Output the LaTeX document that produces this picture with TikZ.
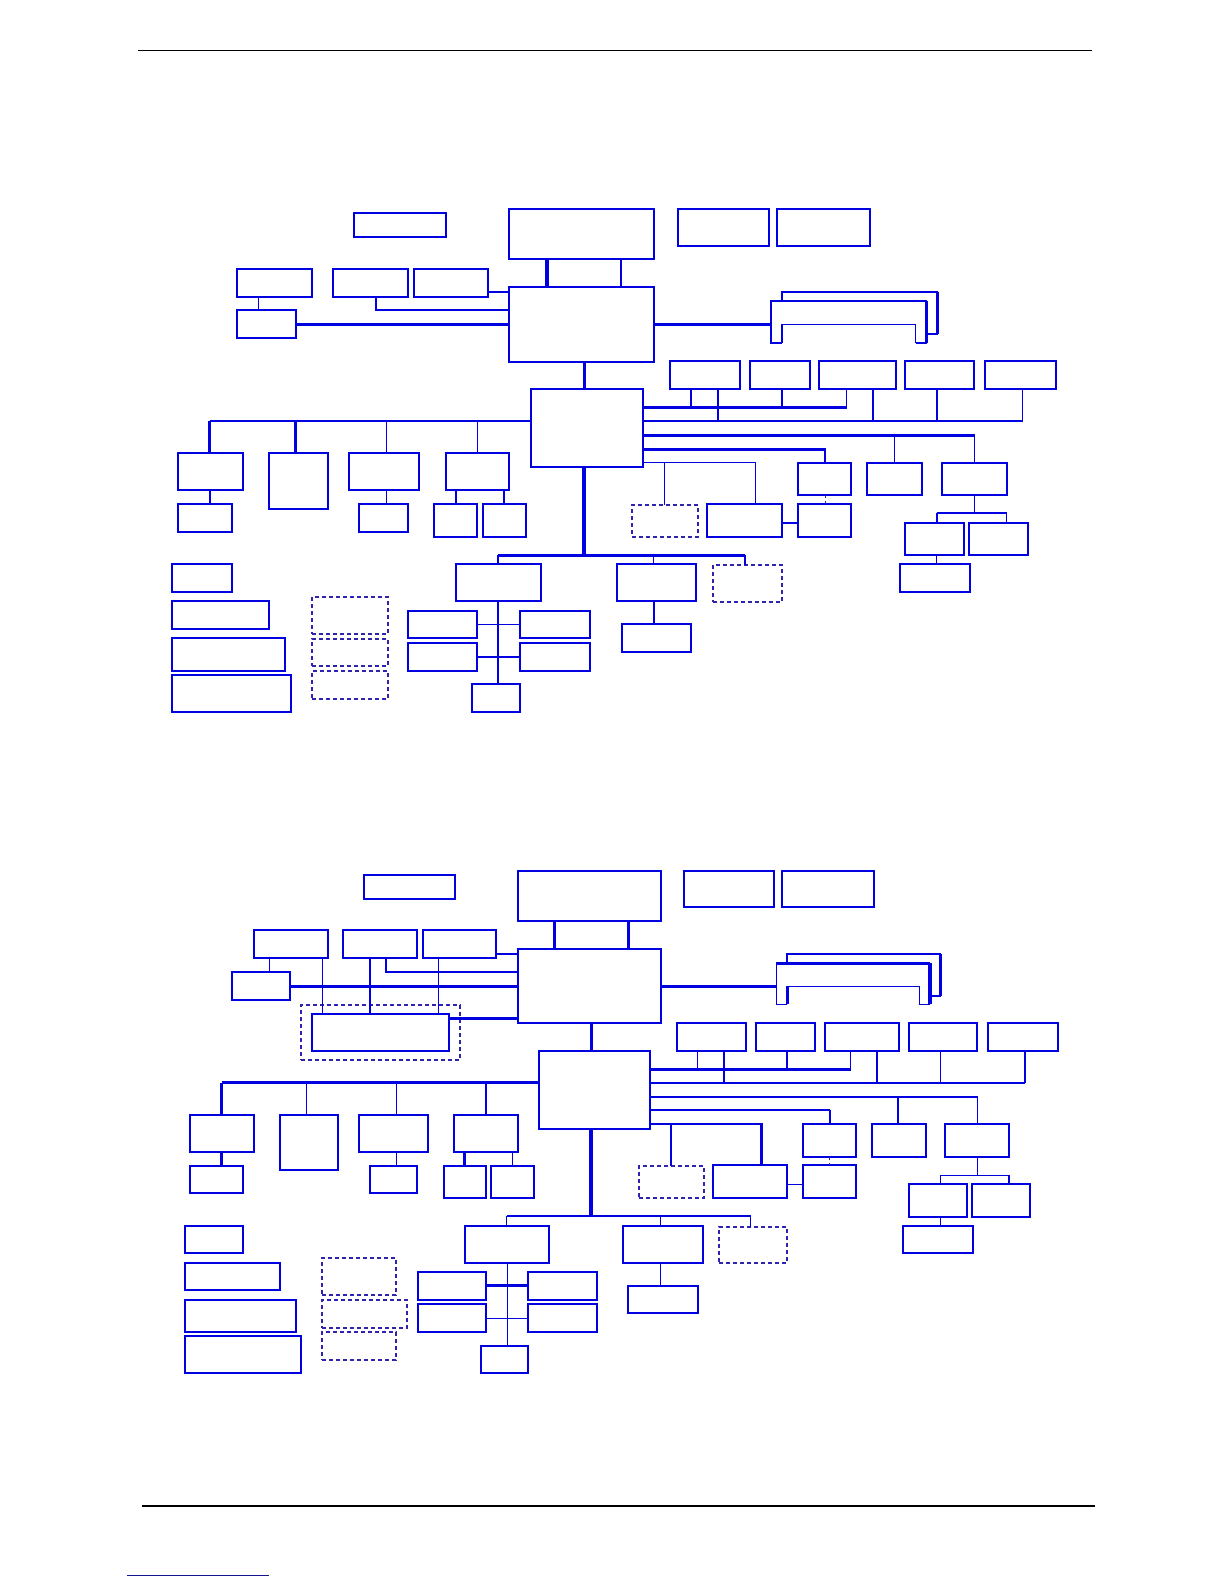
\documentclass[tikz,border=0pt]{standalone}
\usetikzlibrary{calc}
\definecolor{bl}{RGB}{0,0,225}
\definecolor{dbl}{RGB}{45,35,175}
\definecolor{navy}{RGB}{20,20,140}
\tikzset{
  box/.style={draw=bl,line width=0.75pt,inner sep=0pt,outer sep=0pt},
  tbox/.style={line width=1.05pt},
  dbox/.style={draw=dbl,line width=0.55pt,dash pattern=on 2pt off 1.5pt},
  thn/.style={draw=bl,line width=0.55pt},
  med/.style={draw=bl,line width=0.95pt},
  thk/.style={draw=bl,line width=1.35pt},
  vthk/.style={draw=bl,line width=1.9pt},
  dln/.style={draw=dbl,line width=0.55pt,dash pattern=on 1.5pt off 1.5pt},
  rule/.style={draw=black,line width=0.7pt}
}
\newcommand{\bx}[6][]{\node[box,#1,minimum width={(#5-#3)*0.5pt},minimum height={(#6-#4)*0.5pt}] (#2) at ({(#3+#5)/2},{(#4+#6)/2}) {};}
\begin{document}
\begin{tikzpicture}[x=0.5pt,y=-0.5pt]
\useasboundingbox (0,0) rectangle (1224,1584);
% rules
\coordinate (hl) at (138,50.7); \coordinate (hr) at (1092,50.7);
\draw[rule] (hl) -- (hr);
\coordinate (fl) at (142,1506); \coordinate (fr) at (1095,1506);
\draw[rule] (fl) -- (fr);
\coordinate (ul) at (127,1575.5); \coordinate (ur) at (269,1575.5);
\draw[draw=navy,line width=0.6pt] (ul) -- (ur);

%================ TOP DIAGRAM ================
\bx[tbox]{TA}{354}{213}{446}{237}
\bx{TCPU}{509}{209}{654}{259}
\bx{TNB}{509}{287}{654}{362}
\bx{TB1}{237}{269}{312}{297}
\bx{TB2}{333}{269}{408}{297}
\bx{TB3}{414}{269}{488}{297}
\bx{TC}{237}{310}{296}{338}
\bx[tbox]{TD1}{678}{209}{769}{246}
\bx{TD2}{777}{209}{870}{246}
\bx{TE1}{670}{361}{740}{389}
\bx{TE2}{750}{361}{810}{389}
\bx{TE3}{819}{361}{896}{389}
\bx{TE4}{905}{361}{974}{389}
\bx{TE5}{985}{361}{1056}{389}
\bx{TSB}{531}{389}{643}{467}
\bx{TF1}{798}{463}{851}{495}
\bx{TF2}{867}{463}{922}{495}
\bx{TF3}{942}{463}{1007}{495}
\bx[dbox]{TG1}{632}{505}{698}{537}
\bx{TG2}{707}{504}{782}{537}
\bx{TG3}{798}{504}{851}{537}
\bx{TH1}{905}{523}{964}{555}
\bx{TH2}{969}{523}{1028}{555}
\bx{TH3}{900}{564}{970}{592}
\bx{TP1}{178}{453}{243}{490}
\bx{TP2}{269}{453}{328}{509}
\bx{TP3}{349}{453}{419}{490}
\bx{TP4}{446}{453}{509}{490}
\bx{TQ1}{178}{504}{232}{532}
\bx{TQ3}{359}{504}{408}{532}
\bx[tbox]{TQ4a}{434}{504}{477}{537}
\bx[tbox]{TQ4b}{483}{504}{526}{537}
\bx{TK1}{456}{564}{541}{601}
\bx{TK2}{617}{564}{696}{601}
\bx[dbox]{TK3}{713}{565}{782}{602}
\bx{TK2b}{622}{624}{691}{652}
\bx[tbox]{TL1}{408}{611}{477}{638}
\bx[tbox]{TL2}{520}{611}{590}{638}
\bx[tbox]{TL3}{408}{643}{477}{671}
\bx[tbox]{TL4}{520}{643}{590}{671}
\bx{TK1c}{472}{684}{520}{712}
\bx{TM1}{172}{564}{232}{592}
\bx{TM2}{172}{601}{269}{629}
\bx[tbox]{TM3}{172}{638}{285}{671}
\bx{TM4}{172}{675}{291}{712}
\bx[dbox]{TN1}{312}{597}{388}{634}
\bx[dbox]{TN2}{312}{639}{388}{666}
\bx[dbox]{TN3}{312}{671}{388}{699}

% CPU - NB
\draw[vthk] (547,0|-TCPU.south) -- (547,0|-TNB.north);
\draw[thk] (621,0|-TCPU.south) -- (621,0|-TNB.north);
% left group
\draw[med] (TB3.east|-0,291.7) -- (TNB.west|-0,291.7);
\draw[med] (376,0|-TB2.south) |- (TNB.west|-0,310.3);
\draw[thn] (258.3,0|-TB1.south) -- (258.3,0|-TC.north);
\draw[thk] (TC.east|-0,324.3) -- (TNB.west|-0,324.3);
% graphics connector
\coordinate (tgA) at (771,324.3);
\draw[thk] (TNB.east|-0,324.3) -- (tgA);
\draw[med] (782,301) -- (782,291.7) -- (937.7,291.7);
\draw[thk] (937.7,291.7) -- (937.7,334);
\draw[med] (937.7,334) -- (926.7,334);
\draw[thn] (771,324.3) -- (771,343) -- (782,343);
\draw[thn] (tgA) -- (771,301);
\draw[thk] (770.4,301) -- (926.7,301);
\draw[thk] (926.7,301) -- (926.7,343);
\draw[med] (926.7,343) -- (915.7,343);
\draw[thn] (915.7,343) -- (915.7,324.3) -- (782,324.3);
\draw[thk] (782,324.3) -- (782,343);
% NB - SB
\draw[thk] (584.3,0|-TNB.south) -- (584.3,0|-TSB.north);
% right buses
\draw[thk] (TSB.east|-0,407.3) -- (847,407.3);
\draw[thn] (691,407.3) -- (691,0|-TE1.south);
\draw[med] (782,407.3) -- (782,0|-TE2.south);
\draw[thn] (846.7,407.3) -- (846.7,0|-TE3.south);
\draw[thk] (TSB.east|-0,421) -- (1023.3,421);
\draw[med] (718,421) -- (718,0|-TE1.south);
\draw[med] (873,421) -- (873,0|-TE3.south);
\draw[med] (936.7,421) -- (936.7,0|-TE4.south);
\draw[thn] (1022.3,421) -- (1022.3,0|-TE5.south);
\draw[thk] (TSB.east|-0,435.3) -- (975,435.3);
\draw[thn] (894.3,435.3) -- (894.3,0|-TF2.north);
\draw[thn] (974.3,435.3) -- (974.3,0|-TF3.north);
\draw[thk] (TSB.east|-0,449.3) -| (825,0|-TF1.north);
\draw[thn] (TSB.east|-0,462.7) -| (755.7,0|-TG2.north);
\draw[thn] (664.3,462.7) -- (664.3,0|-TG1.north);
\draw[dln] (825.3,0|-TF1.south) -- (825.3,0|-TG3.north);
\draw[med] (TG2.east|-0,522.7) -- (TG3.west|-0,522.7);
\draw[thn] (974.3,0|-TF3.south) -- (974.3,513.3);
\draw[med] (936.7,513.3) -- (1006.7,513.3);
\draw[med] (936.7,513.3) -- (936.7,0|-TH1.north);
\draw[thn] (1006.7,513.3) -- (1006.7,0|-TH2.north);
\draw[thn] (936.7,0|-TH1.south) -- (936.7,0|-TH3.north);
% left bus
\draw[thk] (209.7,421) -- (TSB.west|-0,421);
\draw[thk] (209.7,421) -- (209.7,0|-TP1.north);
\draw[thk] (295.7,421) -- (295.7,0|-TP2.north);
\draw[thn] (386.7,421) -- (386.7,0|-TP3.north);
\draw[thn] (477.3,421) -- (477.3,0|-TP4.north);
\draw[med] (209.7,0|-TP1.south) -- (209.7,0|-TQ1.north);
\draw[thn] (386.7,0|-TP3.south) -- (386.7,0|-TQ3.north);
\draw[med] (456,0|-TP4.south) -- (456,0|-TQ4a.north);
\draw[med] (503.7,0|-TP4.south) -- (503.7,0|-TQ4b.north);
% down bus
\draw[vthk] (584.3,0|-TSB.south) -- (584.3,555.3);
\draw[thk] (498.2,555.3) -- (745,555.3);
\draw[med] (498.2,555.3) -- (498.2,0|-TK1.north);
\draw[thn] (653.7,555.3) -- (653.7,0|-TK2.north);
\draw[thn] (745,555.3) -- (745,0|-TK3.north);
\draw[med] (498.2,0|-TK1.south) -- (498.2,0|-TK1c.north);
\draw[thn] (TL1.east|-0,624.3) -- (TL2.west|-0,624.3);
\draw[med] (TL3.east|-0,657) -- (TL4.west|-0,657);
\draw[med] (654,0|-TK2.south) -- (654,0|-TK2b.north);

%================ BOTTOM DIAGRAM ================
\bx[tbox]{BA}{364}{875}{455}{899}
\bx[tbox]{BCPU}{518}{871}{661}{921}
\bx{BNB}{518}{949}{661}{1023}
\bx[tbox]{BB1}{254}{930}{328}{958}
\bx{BB2}{343}{930}{417}{958}
\bx[tbox]{BB3}{423}{930}{496}{958}
\bx{BC}{232}{972}{290}{1000}
\bx[dbox]{BRd}{301}{1005}{460}{1060}
\bx[line width=1.2pt]{BR}{312}{1014}{449}{1051}
\bx{BD1}{684}{871}{774}{907}
\bx{BD2}{782}{871}{874}{907}
\bx{BE1}{677}{1023}{746}{1051}
\bx{BE2}{756}{1023}{815}{1051}
\bx{BE3}{825}{1023}{899}{1051}
\bx{BE4}{909}{1023}{977}{1051}
\bx{BE5}{988}{1023}{1058}{1051}
\bx{BSB}{539}{1051}{650}{1129}
\bx{BF1}{803}{1124}{856}{1157}
\bx{BF2}{872}{1124}{926}{1157}
\bx{BF3}{945}{1124}{1009}{1157}
\bx[dbox]{BG1}{639}{1166}{704}{1198}
\bx{BG2}{713}{1165}{787}{1198}
\bx{BG3}{803}{1165}{856}{1198}
\bx{BH1}{909}{1184}{967}{1217}
\bx{BH2}{972}{1184}{1030}{1217}
\bx{BH3}{903}{1226}{973}{1253}
\bx{BP1}{190}{1115}{254}{1152}
\bx{BP2}{280}{1115}{338}{1170}
\bx{BP3}{359}{1115}{428}{1152}
\bx{BP4}{454}{1115}{518}{1152}
\bx{BQ1}{190}{1166}{243}{1193}
\bx{BQ3}{370}{1166}{417}{1193}
\bx[tbox]{BQ4a}{444}{1166}{486}{1198}
\bx{BQ4b}{491}{1166}{534}{1198}
\bx[tbox]{BK1}{465}{1226}{549}{1263}
\bx[tbox]{BK2}{623}{1226}{703}{1263}
\bx[dbox]{BK3}{719}{1227}{787}{1263}
\bx{BK2b}{628}{1286}{698}{1313}
\bx[tbox]{BL1}{418}{1272}{486}{1300}
\bx[tbox]{BL2}{528}{1272}{597}{1300}
\bx[tbox]{BL3}{418}{1304}{486}{1332}
\bx[tbox]{BL4}{528}{1304}{597}{1332}
\bx[tbox]{BK1c}{481}{1346}{528}{1373}
\bx{BM1}{185}{1226}{243}{1253}
\bx{BM2}{185}{1263}{280}{1290}
\bx[tbox]{BM3}{185}{1300}{296}{1332}
\bx[tbox]{BM4}{185}{1336}{301}{1373}
\bx[dbox]{BN1}{322}{1258}{396}{1295}
\bx[dbox]{BN2}{322}{1300}{407}{1328}
\bx[dbox]{BN3}{322}{1332}{396}{1360}

% CPU - NB
\draw[thk] (554.3,0|-BCPU.south) -- (554.3,0|-BNB.north);
\draw[thk] (628.3,0|-BCPU.south) -- (628.3,0|-BNB.north);
% left group
\draw[med] (BB3.east|-0,953.7) -- (BNB.west|-0,953.7);
\draw[med] (385.7,0|-BB2.south) |- (BNB.west|-0,972.3);
\draw[thn] (269.3,0|-BB1.south) -- (269.3,0|-BC.north);
\draw[thk] (BC.east|-0,986.3) -- (BNB.west|-0,986.3);
\draw[thn] (322.3,0|-BB1.south) -- (322.3,0|-BR.north);
\draw[thk] (370,0|-BB2.south) -- (370,0|-BR.north);
\draw[thn] (438.3,0|-BB3.south) -- (438.3,0|-BR.north);
\draw[thk] (BR.east|-0,1018.3) -- (BNB.west|-0,1018.3);
% graphics connector
\coordinate (bgA) at (776.3,986.3);
\draw[thk] (BNB.east|-0,986.3) -- (bgA);
\draw[med] (786.7,963.3) -- (786.7,954) -- (940.7,954);
\draw[thk] (940.7,954) -- (940.7,995.7);
\draw[med] (940.7,995.7) -- (930,995.7);
\draw[thn] (bgA) -- (776.3,963.3);
\draw[thk] (775.7,963.3) -- (930,963.3);
\draw[vthk] (930,963.3) -- (930,1004.3);
\draw[thn] (930,1004.3) -- (919.3,1004.3) -- (919.3,986.3);
\draw[thn] (919.3,986.3) -- (787.3,986.3);
\draw[thk] (787.3,986.3) -- (787.3,1004.3);
\draw[thn] (787.3,1004.3) -- (776.3,1004.3) -- (bgA);
% NB - SB
\draw[thk] (591.3,0|-BNB.south) -- (591.3,0|-BSB.north);
% right buses
\draw[thk] (BSB.east|-0,1069.3) -- (851.3,1069.3);
\draw[thn] (697.3,1069.3) -- (697.3,0|-BE1.south);
\draw[med] (786.7,1069.3) -- (786.7,0|-BE2.south);
\draw[thn] (850.3,1069.3) -- (850.3,0|-BE3.south);
\draw[med] (BSB.east|-0,1082.7) -- (1025,1082.7);
\draw[med] (724,1082.7) -- (724,0|-BE1.south);
\draw[med] (877,1082.7) -- (877,0|-BE3.south);
\draw[thn] (940.7,1082.7) -- (940.7,0|-BE4.south);
\draw[med] (1025,1082.7) -- (1025,0|-BE5.south);
\draw[med] (BSB.east|-0,1097) -- (977.7,1097);
\draw[med] (898,1097) -- (898,0|-BF2.north);
\draw[thn] (977.7,1097) -- (977.7,0|-BF3.north);
\draw[thk] (BSB.east|-0,1110) -- (830,1110);
\draw[thn] (830,1110) -- (830,0|-BF1.north);
\draw[thk] (BSB.east|-0,1124) -| (761.3,0|-BG2.north);
\draw[med] (670.7,1124) -- (670.7,0|-BG1.north);
\draw[dln] (829.3,0|-BF1.south) -- (829.3,0|-BG3.north);
\draw[thn] (BG2.east|-0,1184.3) -- (BG3.west|-0,1184.3);
\draw[thn] (977.7,0|-BF3.south) -- (977.7,1175.3);
\draw[thn] (940.7,1175.3) -- (1009,1175.3);
\draw[thn] (940.7,1175.3) -- (940.7,0|-BH1.north);
\draw[thn] (1009,1175.3) -- (1009,0|-BH2.north);
\draw[thn] (940.7,0|-BH1.south) -- (940.7,0|-BH3.north);
% left bus
\draw[thk] (221.7,1082.7) -- (BSB.west|-0,1082.7);
\draw[thk] (221.7,1082.7) -- (221.7,0|-BP1.north);
\draw[thn] (306.3,1082.7) -- (306.3,0|-BP2.north);
\draw[thn] (396.3,1082.7) -- (396.3,0|-BP3.north);
\draw[thk] (486,1082.7) -- (486,0|-BP4.north);
\draw[thk] (221.7,0|-BP1.south) -- (221.7,0|-BQ1.north);
\draw[thn] (396.3,0|-BP3.south) -- (396.3,0|-BQ3.north);
\draw[thk] (464.7,0|-BP4.south) -- (464.7,0|-BQ4a.north);
\draw[thn] (512.3,0|-BP4.south) -- (512.3,0|-BQ4b.north);
% down bus
\draw[vthk] (591.3,0|-BSB.south) -- (591.3,1216);
\draw[thk] (506.8,1216) -- (750.7,1216);
\draw[thn] (506.8,1216) -- (506.8,0|-BK1.north);
\draw[thn] (660.4,1216) -- (660.4,0|-BK2.north);
\draw[thn] (750.7,1216) -- (750.7,0|-BK3.north);
\draw[thn] (507.5,0|-BK1.south) -- (507.5,0|-BK1c.north);
\draw[thk] (BL1.east|-0,1285.7) -- (BL2.west|-0,1285.7);
\draw[thn] (BL3.east|-0,1318.3) -- (BL4.west|-0,1318.3);
\draw[thn] (660.4,0|-BK2.south) -- (660.4,0|-BK2b.north);
\end{tikzpicture}
\end{document}
